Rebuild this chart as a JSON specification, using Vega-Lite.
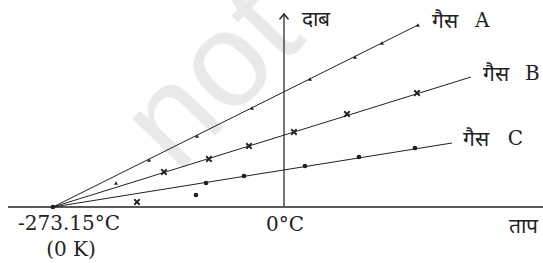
{
  "$schema": "https://vega.github.io/schema/vega-lite/v6.json",
  "width": 543,
  "height": 263,
  "autosize": {"type": "none"},
  "padding": 0,
  "background": "white",
  "config": {"view": {"stroke": null}},
  "datasets": {
    "lines": [
      {"gas": "A", "temp": -273.15, "pressure": 0},
      {"gas": "A", "temp": 158.4, "pressure": 182},
      {"gas": "B", "temp": -273.15, "pressure": 0},
      {"gas": "B", "temp": 221.1, "pressure": 130},
      {"gas": "C", "temp": -273.15, "pressure": 0},
      {"gas": "C", "temp": 198.7, "pressure": 64}
    ],
    "axes": [
      {"axis": "temperature", "temp": -326.4, "pressure": 0},
      {"axis": "temperature", "temp": 306.3, "pressure": 0},
      {"axis": "pressure", "temp": 0, "pressure": 0},
      {"axis": "pressure", "temp": 0, "pressure": 193}
    ],
    "markers": [
      {"gas": "A", "temp": -198.7, "pressure": 24},
      {"gas": "A", "temp": -159.6, "pressure": 47},
      {"gas": "A", "temp": -102.9, "pressure": 71},
      {"gas": "A", "temp": -37.8, "pressure": 99},
      {"gas": "A", "temp": 30.7, "pressure": 128},
      {"gas": "A", "temp": 84.0, "pressure": 150},
      {"gas": "A", "temp": 115.9, "pressure": 164},
      {"gas": "A", "temp": 158.4, "pressure": 182},
      {"gas": "B", "temp": -173.8, "pressure": 5},
      {"gas": "B", "temp": -141.9, "pressure": 35},
      {"gas": "B", "temp": -88.7, "pressure": 48},
      {"gas": "B", "temp": -41.4, "pressure": 61},
      {"gas": "B", "temp": 11.8, "pressure": 75},
      {"gas": "B", "temp": 74.5, "pressure": 93},
      {"gas": "B", "temp": 157.3, "pressure": 114},
      {"gas": "C", "temp": -104.1, "pressure": 12},
      {"gas": "C", "temp": -92.2, "pressure": 24},
      {"gas": "C", "temp": -47.3, "pressure": 31},
      {"gas": "C", "temp": 24.8, "pressure": 41},
      {"gas": "C", "temp": 88.7, "pressure": 50},
      {"gas": "C", "temp": 154.9, "pressure": 59},
      {"gas": "O", "temp": -273.15, "pressure": 0}
    ]
  },
  "encoding": {
    "x": {"field": "temp", "type": "quantitative", "scale": {"domain": [-335.8, 306.3], "nice": false, "zero": false}, "axis": null},
    "y": {"field": "pressure", "type": "quantitative", "scale": {"domain": [-56, 207], "nice": false, "zero": false}, "axis": null}
  },
  "layer": [
    {
      "data": {"values": [{"label": "not", "temp": -84, "pressure": 128}]},
      "mark": {"type": "text", "align": "center", "baseline": "middle", "font": "Liberation Sans", "fontSize": 135, "angle": -46, "color": "#e9e9e9"},
      "encoding": {"text": {"field": "label"}}
    },
    {
      "data": {"name": "axes"},
      "transform": [{"filter": "datum.axis === 'temperature'"}],
      "mark": {"type": "line", "stroke": "#222", "strokeWidth": 1.3},
      "encoding": {"detail": {"field": "axis"}}
    },
    {
      "data": {"name": "axes"},
      "transform": [{"filter": "datum.axis === 'pressure'"}],
      "mark": {"type": "line", "stroke": "#555", "strokeWidth": 1.6},
      "encoding": {"detail": {"field": "axis"}, "order": {"field": "pressure"}}
    },
    {
      "data": {"name": "axes"},
      "transform": [{"filter": "datum.axis === 'pressure' && datum.pressure > 0"}],
      "mark": {"type": "point", "shape": "M-1,1.2L0,0L1,1.2", "size": 80, "filled": false, "stroke": "#222", "strokeWidth": 1.5, "opacity": 1}
    },
    {
      "data": {"name": "lines"},
      "mark": {"type": "line", "stroke": "#222", "strokeWidth": 1},
      "encoding": {"detail": {"field": "gas"}}
    },
    {
      "data": {"name": "markers"},
      "transform": [{"filter": "datum.gas === 'A'"}],
      "mark": {"type": "point", "shape": "triangle-up", "size": 16, "filled": true, "color": "#222", "opacity": 1}
    },
    {
      "data": {"name": "markers"},
      "transform": [{"filter": "datum.gas === 'B'"}],
      "mark": {"type": "point", "shape": "M-1,-1L1,1M-1,1L1,-1", "size": 30, "filled": false, "stroke": "#222", "strokeWidth": 1.8, "opacity": 1}
    },
    {
      "data": {"name": "markers"},
      "transform": [{"filter": "datum.gas === 'C' || datum.gas === 'O'"}],
      "mark": {"type": "point", "shape": "circle", "size": 22, "filled": true, "color": "#222", "opacity": 1}
    },
    {
      "data": {"values": [
        {"label": "गैस", "temp": 175, "pressure": 185},
        {"label": "गैस", "temp": 235.3, "pressure": 132},
        {"label": "गैस", "temp": 211.7, "pressure": 67},
        {"label": "दाब", "temp": 21.3, "pressure": 187}
      ]},
      "mark": {"type": "text", "align": "left", "baseline": "middle", "fontSize": 21, "color": "#222"},
      "encoding": {"text": {"field": "label"}}
    },
    {
      "data": {"values": [
        {"label": "A", "temp": 225.8, "pressure": 186},
        {"label": "B", "temp": 285, "pressure": 133},
        {"label": "C", "temp": 264.7, "pressure": 68},
        {"label": "-273.15°C", "temp": -314.5, "pressure": -17}
      ]},
      "mark": {"type": "text", "align": "left", "baseline": "middle", "font": "DejaVu Serif", "fontSize": 20, "color": "#222"},
      "encoding": {"text": {"field": "label"}}
    },
    {
      "data": {"values": [
        {"label": "0°C", "temp": 1.2, "pressure": -18},
        {"label": "(0 K)", "temp": -251.9, "pressure": -43}
      ]},
      "mark": {"type": "text", "align": "center", "baseline": "middle", "font": "DejaVu Serif", "fontSize": 20, "color": "#222"},
      "encoding": {"text": {"field": "label"}}
    },
    {
      "data": {"values": [
        {"label": "ताप", "temp": 300.3, "pressure": -20}
      ]},
      "mark": {"type": "text", "align": "right", "baseline": "middle", "fontSize": 21, "color": "#222"},
      "encoding": {"text": {"field": "label"}}
    }
  ]
}
